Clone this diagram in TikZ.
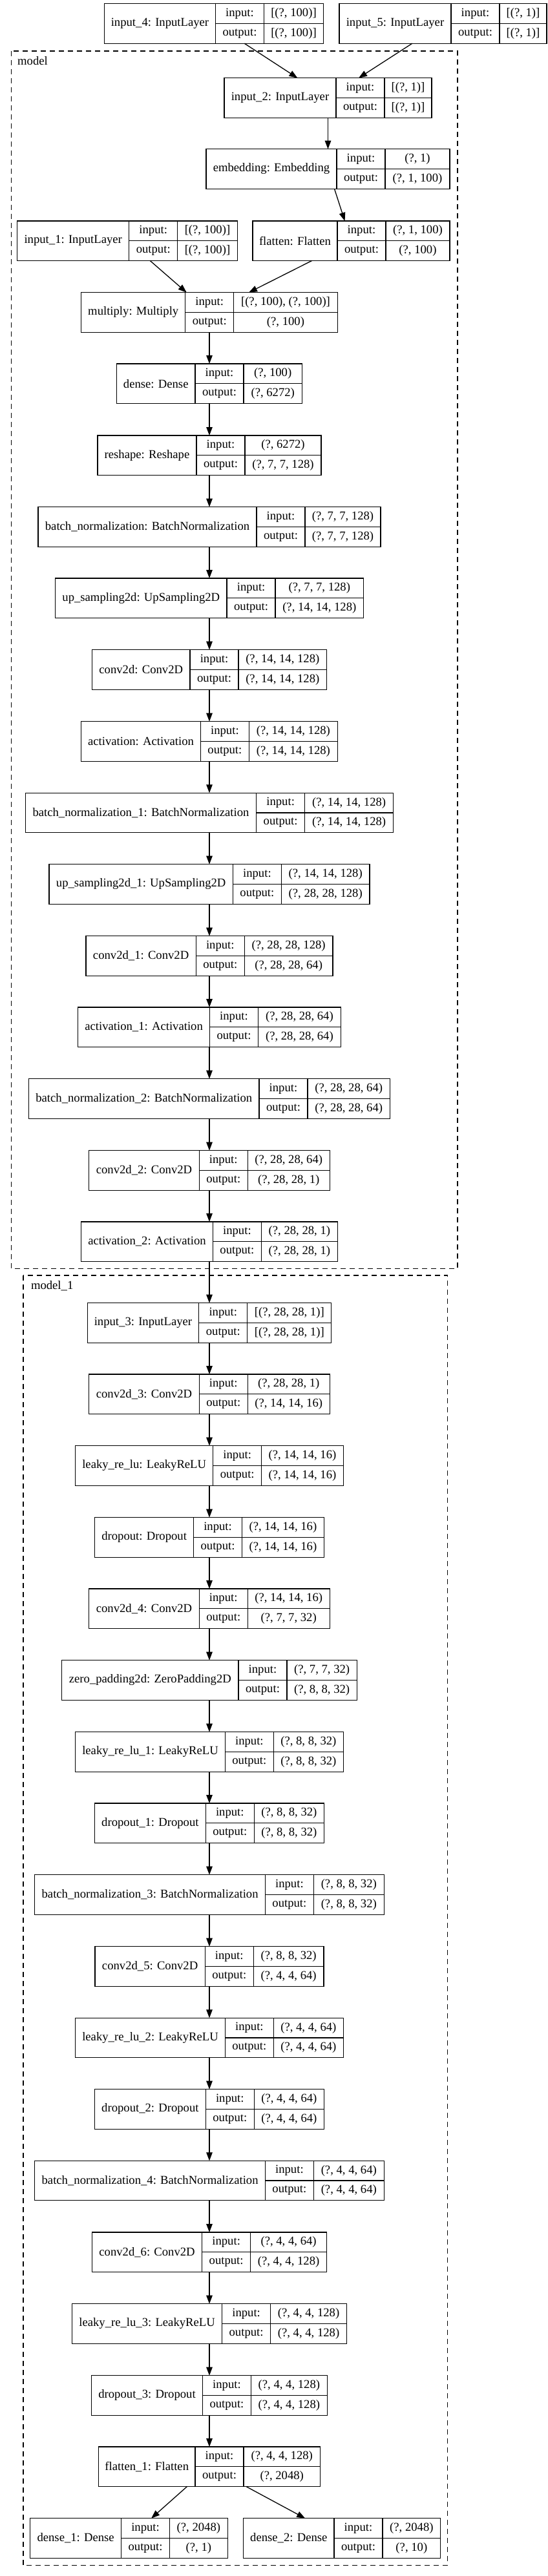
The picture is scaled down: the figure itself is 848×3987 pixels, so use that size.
\documentclass[tikz,border=0pt]{standalone}
\usepackage{fontspec}
\setmainfont{Liberation Serif}
\usetikzlibrary{arrows.meta}

\tikzset{
  cell/.style={draw, line width=1.3pt, inner sep=0pt, outer sep=0pt, minimum height=30.75pt},
  namecell/.style={cell, minimum height=61.5pt},
  keycell/.style={cell, minimum width=75pt},
  wrap/.style={inner sep=0pt, outer sep=0pt, minimum height=61.5pt},
  edge/.style={line width=1.3pt, -{Triangle[length=13pt, width=9.5pt]}},
  cluster/.style={line width=1.3pt, dash pattern=on 8pt off 6pt},
}

% one keras layer: id, centre x, top y, name width, value width, name, input, output
\newcommand{\layer}[8]{%
  \node[wrap, minimum width={#4+75+#5}] (#1) at (#2,{#3+30.75}) {};
  \node[namecell, minimum width=#4, anchor=west] (#1-n) at (#1.west) {#6};
  \node[keycell, anchor=north west] (#1-ik) at (#1-n.north east) {input:};
  \node[keycell, anchor=north west] (#1-ok) at (#1-ik.south west) {output:};
  \node[cell, minimum width=#5, anchor=north west] (#1-iv) at (#1-ik.north east) {#7};
  \node[cell, minimum width=#5, anchor=north west] (#1-ov) at (#1-ok.north east) {#8};
}

\begin{document}
\begin{tikzpicture}[x=1pt, y=-1pt, font=\fontsize{18.67pt}{22pt}\selectfont]
  \useasboundingbox (0,0) rectangle (848,3987);

  % clusters
  \draw[cluster] (17.4,79) rectangle (708,1963.3);
  \node[anchor=west, inner sep=0pt] (lblA) at (27,94) {model};
  \draw[cluster] (35.9,1974) rectangle (692.5,3970.7);
  \node[anchor=west, inner sep=0pt] (lblB) at (47.8,1990) {model\_1};

  % generator
  \layer{inFour}{331}{5.7}{172}{92}{input\_4: InputLayer}{[(?, 100)]}{[(?, 100)]}
  \layer{inFive}{685.5}{5.7}{173}{73}{input\_5: InputLayer}{[(?, 1)]}{[(?, 1)]}
  \layer{inTwo}{507.5}{120.7}{173}{73}{input\_2: InputLayer}{[(?, 1)]}{[(?, 1)]}
  \layer{embed}{507.5}{230.7}{202}{100}{embedding: Embedding}{(?, 1)}{(?, 1, 100)}
  \layer{inOne}{197}{342}{173}{92.5}{input\_1: InputLayer}{[(?, 100)]}{[(?, 100)]}
  \layer{flat}{543.5}{342}{131}{99}{flatten: Flatten}{(?, 1, 100)}{(?, 100)}
  \layer{mult}{324}{452.7}{161}{160.5}{multiply: Multiply}{[(?, 100), (?, 100)]}{(?, 100)}
  \layer{dns}{324}{563}{121.5}{90.5}{dense: Dense}{(?, 100)}{(?, 6272)}
  \layer{resh}{324}{674}{153}{118}{reshape: Reshape}{(?, 6272)}{(?, 7, 7, 128)}
  \layer{bnA}{324}{784.7}{338}{117}{batch\_normalization: BatchNormalization}{(?, 7, 7, 128)}{(?, 7, 7, 128)}
  \layer{upA}{324}{895}{265.6}{136.4}{up\_sampling2d: UpSampling2D}{(?, 7, 7, 128)}{(?, 14, 14, 128)}
  \layer{convA}{324}{1005.7}{151.6}{136.5}{conv2d: Conv2D}{(?, 14, 14, 128)}{(?, 14, 14, 128)}
  \layer{actA}{324}{1116.7}{184.8}{137}{activation: Activation}{(?, 14, 14, 128)}{(?, 14, 14, 128)}
  \layer{bnB}{324}{1227.3}{357.3}{137}{batch\_normalization\_1: BatchNormalization}{(?, 14, 14, 128)}{(?, 14, 14, 128)}
  \layer{upB}{324}{1337.7}{284.4}{136.6}{up\_sampling2d\_1: UpSampling2D}{(?, 14, 14, 128)}{(?, 28, 28, 128)}
  \layer{convB}{324}{1448.7}{170.3}{136.7}{conv2d\_1: Conv2D}{(?, 28, 28, 128)}{(?, 28, 28, 64)}
  \layer{actB}{324}{1559}{203.8}{127.8}{activation\_1: Activation}{(?, 28, 28, 64)}{(?, 28, 28, 64)}
  \layer{bnC}{324}{1669.7}{356.4}{127.4}{batch\_normalization\_2: BatchNormalization}{(?, 28, 28, 64)}{(?, 28, 28, 64)}
  \layer{convC}{324}{1780.7}{170.5}{127}{conv2d\_2: Conv2D}{(?, 28, 28, 64)}{(?, 28, 28, 1)}
  \layer{actC}{324}{1891}{203.8}{118}{activation\_2: Activation}{(?, 28, 28, 1)}{(?, 28, 28, 1)}

  % discriminator
  \layer{inThree}{324}{2016.7}{172.6}{130}{input\_3: InputLayer}{[(?, 28, 28, 1)]}{[(?, 28, 28, 1)]}
  \layer{convD}{324}{2127}{170.5}{127}{conv2d\_3: Conv2D}{(?, 28, 28, 1)}{(?, 14, 14, 16)}
  \layer{lrA}{324}{2237.7}{213}{126.6}{leaky\_re\_lu: LeakyReLU}{(?, 14, 14, 16)}{(?, 14, 14, 16)}
  \layer{dropA}{324}{2348.7}{152.8}{126.7}{dropout: Dropout}{(?, 14, 14, 16)}{(?, 14, 14, 16)}
  \layer{convE}{324}{2459}{170.5}{127}{conv2d\_4: Conv2D}{(?, 14, 14, 16)}{(?, 7, 7, 32)}
  \layer{zpad}{324}{2569.7}{273.3}{108.3}{zero\_padding2d: ZeroPadding2D}{(?, 7, 7, 32)}{(?, 8, 8, 32)}
  \layer{lrB}{324}{2680.7}{231.7}{108}{leaky\_re\_lu\_1: LeakyReLU}{(?, 8, 8, 32)}{(?, 8, 8, 32)}
  \layer{dropB}{324}{2791}{171.8}{108.2}{dropout\_1: Dropout}{(?, 8, 8, 32)}{(?, 8, 8, 32)}
  \layer{bnD}{324}{2901.7}{356.6}{108.8}{batch\_normalization\_3: BatchNormalization}{(?, 8, 8, 32)}{(?, 8, 8, 32)}
  \layer{convF}{324}{3012.7}{170.2}{108.7}{conv2d\_5: Conv2D}{(?, 8, 8, 32)}{(?, 4, 4, 64)}
  \layer{lrC}{324}{3123.3}{231.7}{108}{leaky\_re\_lu\_2: LeakyReLU}{(?, 4, 4, 64)}{(?, 4, 4, 64)}
  \layer{dropC}{324}{3233.7}{171.8}{108.2}{dropout\_2: Dropout}{(?, 4, 4, 64)}{(?, 4, 4, 64)}
  \layer{bnE}{324}{3344.3}{356.6}{108.8}{batch\_normalization\_4: BatchNormalization}{(?, 4, 4, 64)}{(?, 4, 4, 64)}
  \layer{convG}{324}{3455}{170.2}{117.9}{conv2d\_6: Conv2D}{(?, 4, 4, 64)}{(?, 4, 4, 128)}
  \layer{lrD}{324}{3565.7}{232.1}{117.9}{leaky\_re\_lu\_3: LeakyReLU}{(?, 4, 4, 128)}{(?, 4, 4, 128)}
  \layer{dropD}{324}{3676.7}{171.8}{117.9}{dropout\_3: Dropout}{(?, 4, 4, 128)}{(?, 4, 4, 128)}
  \layer{flatB}{324}{3787}{149.5}{118.5}{flatten\_1: Flatten}{(?, 4, 4, 128)}{(?, 2048)}
  \layer{dnsA}{199.5}{3897.7}{140.8}{89.7}{dense\_1: Dense}{(?, 2048)}{(?, 1)}
  \layer{dnsB}{529.2}{3897.7}{140.3}{89.7}{dense\_2: Dense}{(?, 2048)}{(?, 10)}

  % edges
  \foreach \a/\b in {inFour/inTwo, inFive/inTwo, inTwo/embed, embed/flat, inOne/mult, flat/mult,
      mult/dns, dns/resh, resh/bnA, bnA/upA, upA/convA, convA/actA, actA/bnB, bnB/upB,
      upB/convB, convB/actB, actB/bnC, bnC/convC, convC/actC, actC/inThree,
      inThree/convD, convD/lrA, lrA/dropA, dropA/convE, convE/zpad, zpad/lrB, lrB/dropB,
      dropB/bnD, bnD/convF, convF/lrC, lrC/dropC, dropC/bnE, bnE/convG, convG/lrD,
      lrD/dropD, dropD/flatB, flatB/dnsA, flatB/dnsB}
    \draw[edge] (\a) -- (\b);
\end{tikzpicture}
\end{document}
